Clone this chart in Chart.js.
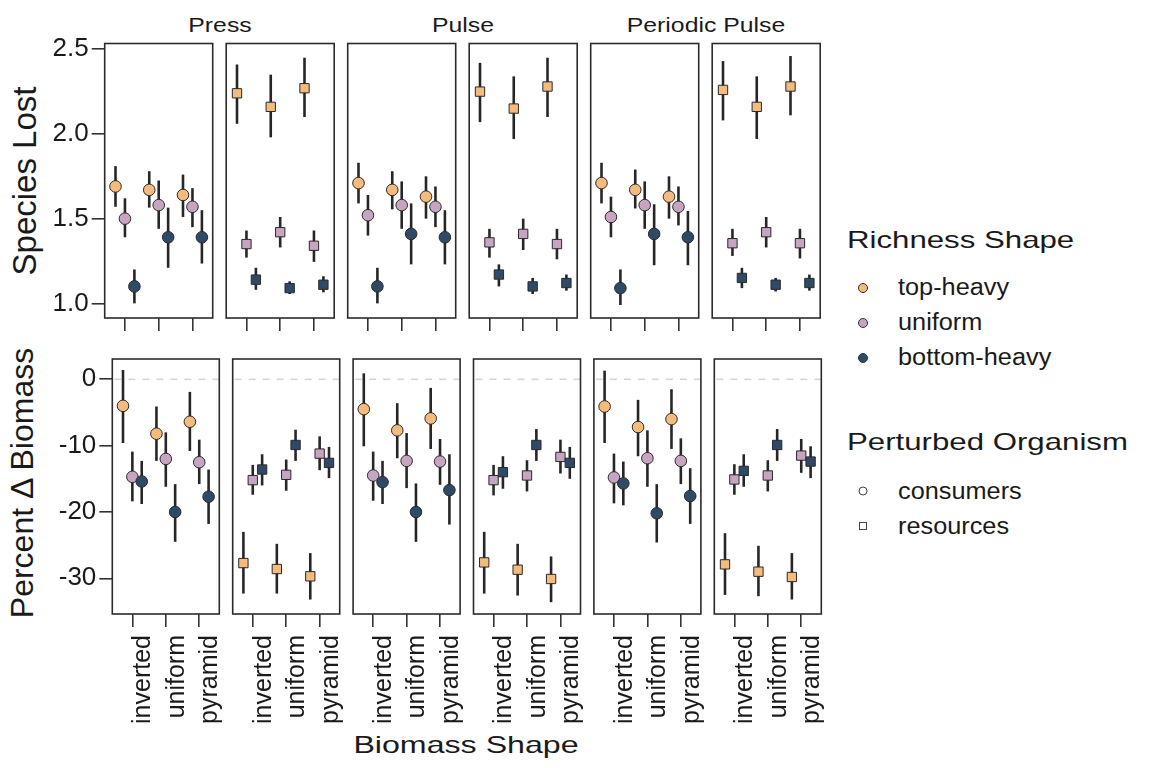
<!DOCTYPE html>
<html>
<head>
<meta charset="utf-8">
<script src="https://cdn.jsdelivr.net/npm/chart.js@4.4.1/dist/chart.umd.min.js"></script>
<style>
  body { margin: 0; background: #fff; }
  #wrap { position: relative; width: 1151px; height: 768px; overflow: hidden;
          font-family: "Liberation Sans", Arial, sans-serif; color: #1a1a1a; }
  #wrap canvas { position: absolute; left: 0; top: 0; }
  .lbl { position: absolute; white-space: nowrap; line-height: 1; }
  .mk { position: absolute; box-sizing: border-box; transform: translate(-50%, -50%); }
</style>
</head>
<body>
<div id="wrap">
  <div class="lbl" style="left:219.5px;top:23.5px;font-size:21px;transform:translate(-50%,-50%) scaleX(1.18)">Press</div>
  <div class="lbl" style="left:462.5px;top:23.5px;font-size:21px;transform:translate(-50%,-50%) scaleX(1.18)">Pulse</div>
  <div class="lbl" style="left:706px;top:23.5px;font-size:21px;transform:translate(-50%,-50%) scaleX(1.18)">Periodic Pulse</div>

  <div class="lbl" style="left:23.5px;top:181px;font-size:33px;transform:translate(-50%,-50%) rotate(-90deg)">Species Lost</div>
  <div class="lbl" style="left:22px;top:483px;font-size:32px;transform:translate(-50%,-50%) rotate(-90deg)">Percent Δ Biomass</div>
  <div class="lbl" style="left:465.5px;top:745px;font-size:24px;transform:translate(-50%,-50%) scaleX(1.34)">Biomass Shape</div>

  <div class="lbl" style="left:847px;top:240px;font-size:24px;transform-origin:left center;transform:translateY(-50%) scaleX(1.3)">Richness Shape</div>
  <div class="mk" style="left:862.5px;top:287.5px;width:10px;height:10px;border-radius:50%;border:1px solid #333;background:#f5bb7d"></div>
  <div class="mk" style="left:862.5px;top:322.5px;width:10px;height:10px;border-radius:50%;border:1px solid #333;background:#c6a4c2"></div>
  <div class="mk" style="left:862.5px;top:357.5px;width:10px;height:10px;border-radius:50%;border:1px solid #333;background:#2e4a66"></div>
  <div class="lbl" style="left:898px;top:287px;font-size:23px;transform-origin:left center;transform:translateY(-50%) scaleX(1.1)">top-heavy</div>
  <div class="lbl" style="left:898px;top:322px;font-size:23px;transform-origin:left center;transform:translateY(-50%) scaleX(1.1)">uniform</div>
  <div class="lbl" style="left:898px;top:357px;font-size:23px;transform-origin:left center;transform:translateY(-50%) scaleX(1.1)">bottom-heavy</div>

  <div class="lbl" style="left:847px;top:442px;font-size:24px;transform-origin:left center;transform:translateY(-50%) scaleX(1.3)">Perturbed Organism</div>
  <div class="mk" style="left:862.5px;top:491px;width:9px;height:9px;border-radius:50%;border:1.2px solid #444;background:#fff"></div>
  <div class="mk" style="left:862.5px;top:526px;width:8px;height:8px;border:1.2px solid #444;background:#fff"></div>
  <div class="lbl" style="left:898px;top:491px;font-size:23px;transform-origin:left center;transform:translateY(-50%) scaleX(1.1)">consumers</div>
  <div class="lbl" style="left:898px;top:526px;font-size:23px;transform-origin:left center;transform:translateY(-50%) scaleX(1.1)">resources</div>
</div>
<script>
const biomassShapes = ["inverted", "uniform", "pyramid"];
const richnessShapes = ["top-heavy", "uniform", "bottom-heavy"];
const perturbations = ["Press", "Pulse", "Periodic Pulse"];
const organisms = ["consumers", "resources"];
const lostTicks = [1.0, 1.5, 2.0, 2.5];
const biomassTicks = [0, -10, -20, -30];

// 18 values per series, panels in order:
// Press-consumers, Press-resources, Pulse-consumers, Pulse-resources, Periodic-consumers, Periodic-resources
// and inverted / uniform / pyramid inside each panel
const lostTop   = [1.69, 1.67, 1.64, 2.24, 2.16, 2.27, 1.71, 1.67, 1.63, 2.25, 2.15, 2.28, 1.71, 1.67, 1.63, 2.26, 2.16, 2.28];
const lostTopLo = [1.57, 1.565, 1.51, 2.06, 1.98, 2.10, 1.59, 1.555, 1.50, 2.07, 1.97, 2.10, 1.59, 1.56, 1.50, 2.08, 1.97, 2.11];
const lostTopHi = [1.81, 1.78, 1.76, 2.41, 2.35, 2.45, 1.83, 1.78, 1.75, 2.42, 2.34, 2.45, 1.83, 1.79, 1.75, 2.43, 2.34, 2.46];
const lostUni   = [1.50, 1.58, 1.57, 1.35, 1.42, 1.34, 1.52, 1.58, 1.57, 1.36, 1.41, 1.35, 1.51, 1.58, 1.57, 1.355, 1.42, 1.355];
const lostUniLo = [1.39, 1.44, 1.45, 1.27, 1.33, 1.245, 1.40, 1.44, 1.45, 1.27, 1.315, 1.26, 1.39, 1.44, 1.46, 1.28, 1.33, 1.265];
const lostUniHi = [1.62, 1.725, 1.68, 1.43, 1.51, 1.43, 1.64, 1.72, 1.69, 1.44, 1.50, 1.44, 1.63, 1.72, 1.69, 1.44, 1.51, 1.44];
const lostBot   = [1.10, 1.39, 1.39, 1.14, 1.09, 1.11, 1.10, 1.41, 1.39, 1.17, 1.10, 1.12, 1.09, 1.41, 1.39, 1.15, 1.11, 1.12];
const lostBotLo = [1.00, 1.21, 1.235, 1.08, 1.055, 1.065, 1.00, 1.23, 1.23, 1.10, 1.055, 1.075, 0.99, 1.225, 1.225, 1.09, 1.07, 1.075];
const lostBotHi = [1.20, 1.565, 1.55, 1.21, 1.13, 1.16, 1.21, 1.59, 1.55, 1.23, 1.15, 1.17, 1.20, 1.585, 1.545, 1.21, 1.15, 1.17];

const bioTop   = [-4.0, -8.2, -6.4, -27.7, -28.6, -29.7, -4.5, -7.7, -5.9, -27.6, -28.7, -30.1, -4.1, -7.2, -6.0, -27.9, -29.0, -29.8];
const bioTopLo = [-9.6, -12.3, -10.8, -32.3, -32.3, -33.2, -10.1, -11.9, -10.5, -32.3, -32.6, -33.6, -9.6, -11.6, -10.5, -32.5, -32.7, -33.2];
const bioTopHi = [1.4, -4.1, -1.9, -23.0, -24.8, -26.2, 0.9, -3.6, -1.3, -23.0, -24.8, -26.7, 1.3, -3.1, -1.5, -23.2, -25.1, -26.2];
const bioUni   = [-14.7, -12.0, -12.5, -15.2, -14.4, -11.2, -14.5, -12.3, -12.4, -15.2, -14.5, -11.7, -14.8, -11.9, -12.3, -15.1, -14.5, -11.5];
const bioUniLo = [-18.4, -16.2, -15.8, -17.4, -16.8, -13.7, -18.3, -16.4, -15.9, -17.5, -16.9, -14.2, -18.7, -16.2, -15.8, -17.4, -16.9, -14.1];
const bioUniHi = [-10.9, -8.0, -9.1, -12.9, -12.1, -8.6, -10.9, -8.1, -9.0, -12.9, -12.2, -9.1, -11.2, -7.7, -8.9, -12.8, -12.2, -9.0];
const bioBot   = [-15.4, -20.0, -17.7, -13.6, -9.9, -12.6, -15.5, -20.0, -16.7, -14.0, -9.9, -12.6, -15.7, -20.2, -17.6, -13.8, -9.9, -12.4];
const bioBotLo = [-18.8, -24.5, -21.8, -16.0, -12.3, -14.9, -18.8, -24.5, -21.9, -16.5, -12.3, -15.0, -19.0, -24.6, -21.8, -16.2, -12.3, -14.9];
const bioBotHi = [-12.3, -15.8, -13.6, -11.3, -7.6, -10.2, -12.3, -15.7, -11.3, -11.6, -7.5, -10.2, -12.4, -15.8, -13.4, -11.3, -7.5, -10.1];

const richnessColors = ["#f5bb7d", "#c6a4c2", "#2e4a66"];
const dodge = [-0.28, 0, 0.28];
const W = 1151, H = 768;
const Y_AXIS_W = 100, X_AXIS_H = 130;

Chart.defaults.font.family = '"Liberation Sans", Arial, sans-serif';

const rows = [
    {
        top: 43.5, bottom: 318, left0: 104.7, pitch: 121.5, width: 108,
        min: 0.9135, max: 2.534, ticks: lostTicks, fmt: v => v.toFixed(1),
        means: [lostTop, lostUni, lostBot], lo: [lostTopLo, lostUniLo, lostBotLo], hi: [lostTopHi, lostUniHi, lostBotHi],
        zeroLine: false, xLabels: false
    },
    {
        top: 359, bottom: 614, left0: 112.3, pitch: 120.4, width: 107,
        min: -35.38, max: 3.06, ticks: biomassTicks, fmt: v => String(v),
        means: [bioTop, bioUni, bioBot], lo: [bioTopLo, bioUniLo, bioBotLo], hi: [bioTopHi, bioUniHi, bioBotHi],
        zeroLine: true, xLabels: true
    }
];

// dashed zero line, error bars and the panel border
const panelDecor = {
    id: 'panelDecor',
    beforeDatasetsDraw(chart) {
        const { ctx, chartArea: a, scales: { x, y } } = chart;
        ctx.save();
        if (chart.options.plugins.panelDecor.zeroLine) {
            const y0 = y.getPixelForValue(0);
            ctx.strokeStyle = '#d6d6d6';
            ctx.lineWidth = 1.6;
            ctx.setLineDash([7, 7]);
            ctx.beginPath();
            ctx.moveTo(a.left + 2, y0);
            ctx.lineTo(a.right, y0);
            ctx.stroke();
            ctx.setLineDash([]);
        }
        ctx.strokeStyle = '#262626';
        ctx.lineWidth = 2.6;
        chart.data.datasets.forEach(ds => {
            ds.data.forEach((p, i) => {
                const px = x.getPixelForValue(p.x);
                ctx.beginPath();
                ctx.moveTo(px, y.getPixelForValue(ds.lo[i]));
                ctx.lineTo(px, y.getPixelForValue(ds.hi[i]));
                ctx.stroke();
            });
        });
        ctx.restore();
    },
    afterDraw(chart) {
        const { ctx, chartArea: a } = chart;
        ctx.save();
        ctx.strokeStyle = '#2b2b2b';
        ctx.lineWidth = 1.6;
        ctx.strokeRect(a.left, a.top, a.right - a.left, a.bottom - a.top);
        ctx.restore();
    }
};

const wrap = document.getElementById('wrap');

rows.forEach(row => {
    for (let p = 0; p < 6; p++) {
        const isResource = p % 2 === 1;
        const left = row.left0 + p * row.pitch;
        const canvas = document.createElement('canvas');
        canvas.width = W;
        canvas.height = H;
        wrap.appendChild(canvas);

        const datasets = richnessShapes.map((name, k) => ({
            label: name + ' / ' + organisms[p % 2] + ' / ' + perturbations[Math.floor(p / 2)],
            data: biomassShapes.map((b, i) => ({ x: i + 1 + dodge[k], y: row.means[k][p * 3 + i] })),
            lo: biomassShapes.map((b, i) => row.lo[k][p * 3 + i]),
            hi: biomassShapes.map((b, i) => row.hi[k][p * 3 + i]),
            pointStyle: isResource ? 'rect' : 'circle',
            pointRadius: isResource ? 6.6 : 5.8,
            backgroundColor: richnessColors[k],
            borderColor: '#2a2a2a',
            borderWidth: 1,
            order: 2 - k,
            clip: false
        }));

        new Chart(canvas, {
            type: 'scatter',
            data: { datasets },
            plugins: [panelDecor],
            options: {
                responsive: false,
                animation: false,
                events: [],
                layout: {
                    // axes get fixed sizes below, so the plot area lands exactly on the panel box
                    padding: {
                        left: left - Y_AXIS_W,
                        top: row.top,
                        right: W - left - row.width,
                        bottom: H - row.bottom - X_AXIS_H
                    }
                },
                plugins: {
                    legend: { display: false },
                    tooltip: { enabled: false },
                    panelDecor: { zeroLine: row.zeroLine }
                },
                scales: {
                    x: {
                        type: 'linear',
                        min: 0.4,
                        max: 3.6,
                        afterFit: s => { s.height = X_AXIS_H; },
                        afterBuildTicks: s => { s.ticks = [1, 2, 3].map(v => ({ value: v })); },
                        border: { display: false },
                        grid: { drawOnChartArea: false, drawTicks: true, tickLength: 13, color: '#333', lineWidth: 1.6 },
                        ticks: {
                            display: row.xLabels,
                            autoSkip: false,
                            minRotation: 90,
                            maxRotation: 90,
                            labelOffset: 11,
                            padding: 8,
                            color: '#1a1a1a',
                            font: { size: 25 },
                            callback: v => biomassShapes[v - 1]
                        }
                    },
                    y: {
                        type: 'linear',
                        min: row.min,
                        max: row.max,
                        afterFit: s => { s.width = Y_AXIS_W; },
                        afterBuildTicks: s => { s.ticks = row.ticks.map(v => ({ value: v })); },
                        border: { display: false },
                        grid: { display: p === 0, drawOnChartArea: false, tickLength: 13, color: '#333', lineWidth: 1.6 },
                        ticks: {
                            display: p === 0,
                            autoSkip: false,
                            padding: 3,
                            color: '#1a1a1a',
                            font: { size: 26 },
                            callback: v => row.fmt(v)
                        }
                    }
                }
            }
        });
    }
});
</script>
</body>
</html>
